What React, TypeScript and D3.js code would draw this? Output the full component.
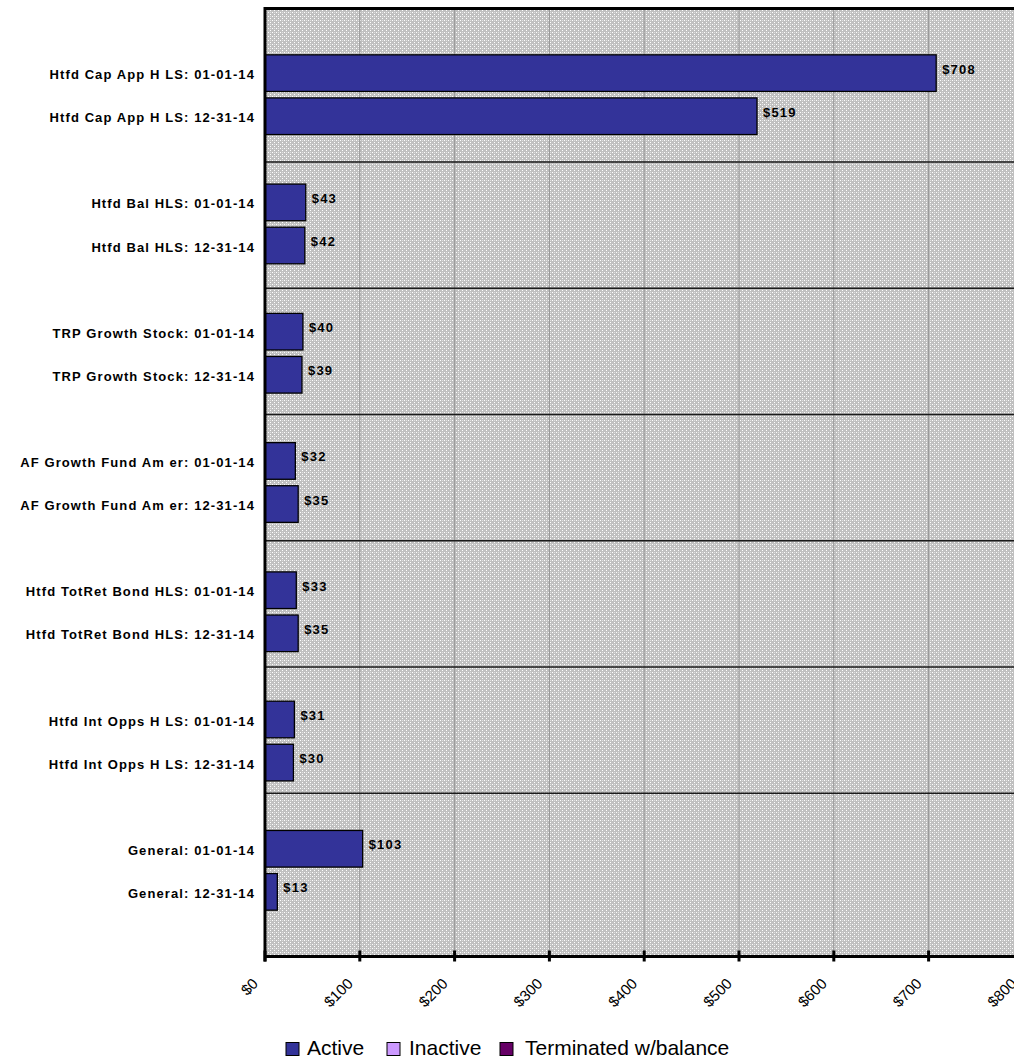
import React from "react";
import * as d3 from "d3";

const groups = [
  "Htfd Cap App H LS",
  "Htfd Bal HLS",
  "TRP Growth Stock",
  "AF Growth Fund Am er",
  "Htfd TotRet Bond HLS",
  "Htfd Int Opps H LS",
  "General",
];
const dates = ["01-01-14", "12-31-14"];
const activeValues = [708, 519, 43, 42, 40, 39, 32, 35, 33, 35, 31, 30, 103, 13];
const xTicks = [0, 100, 200, 300, 400, 500, 600, 700, 800];
const legendNames = ["Active", "Inactive", "Terminated w/balance"];
const legendColors = ["#333399", "#CC99FF", "#660066"];

const W = 1014;
const H = 1059;
const left = 265;
const right = 1023.4;
const top = 8.5;
const bottom = 956.5;
const FONT = "Arial, 'Liberation Sans', sans-serif";

export default function App() {
  const slots: string[] = [];
  const bars: { key: string; label: string; value: number }[] = [];
  groups.forEach((g, gi) => {
    slots.push(`gap-${gi}`);
    dates.forEach((d, di) => {
      const key = `${g}: ${d}`;
      slots.push(key);
      bars.push({ key, label: key, value: activeValues[gi * 2 + di] });
    });
  });
  slots.push("gap-end");

  const x = d3.scaleLinear().domain([0, 800]).range([left, right]);
  const y = d3.scaleBand().domain(slots).range([top, bottom]).paddingInner(0.15).paddingOuter(0.075);
  const yUnits = d3.scaleLinear().domain([0, slots.length]).range([top, bottom]);
  const sepStart = 3.56;
  const sepStep = 2.93;
  const seps = d3.range(groups.length - 1).map((i) => yUnits(sepStart + i * sepStep));

  const legendX = [286, 387, 500];
  const legendTextX = [307, 409, 525];

  return (
    <svg width={W} height={H} style={{ position: "absolute", left: 0, top: 0, background: "#fff" }}>
      <defs>
        <pattern id="dots" width={4} height={4} patternUnits="userSpaceOnUse">
          <rect width={4} height={4} fill="#c0c0c0" />
          <rect x={0} y={0} width={1} height={1} fill="#ffffff" />
          <rect x={2} y={2} width={1} height={1} fill="#ffffff" />
          <rect x={2} y={0} width={1} height={1} fill="#e0e0e0" />
        </pattern>
      </defs>
      <rect x={left} y={top} width={right - left} height={bottom - top} fill="url(#dots)" />
      {xTicks.slice(1).map((t) => (
        <line key={`g${t}`} x1={x(t)} x2={x(t)} y1={top} y2={bottom} stroke="#959595" strokeWidth={1} />
      ))}
      {seps.map((s, i) => (
        <line key={`s${i}`} x1={left} x2={right} y1={s} y2={s} stroke="#1a1a1a" strokeWidth={1.5} />
      ))}
      {bars.map((b) => {
        const by = y(b.key)!;
        const bh = y.bandwidth();
        return (
          <g key={b.key}>
            <rect x={x(0)} y={by} width={x(b.value) - x(0)} height={bh} fill="#333399" stroke="#000" strokeWidth={1.3} />
            <text
              x={x(b.value) + 6}
              y={by + bh / 2 + 0.5}
              fontFamily={FONT}
              fontWeight="bold"
              fontSize={13}
              letterSpacing={1.2}
              fill="#000"
            >
              {`$${b.value}`}
            </text>
            <text
              x={255}
              y={by + bh / 2 + 6}
              textAnchor="end"
              fontFamily={FONT}
              fontWeight="bold"
              fontSize={13}
              letterSpacing={1.1}
              fill="#000"
            >
              {b.label}
            </text>
          </g>
        );
      })}
      <line x1={left} x2={right} y1={top} y2={top} stroke="#000" strokeWidth={3} />
      <line x1={left} x2={left} y1={top - 1.5} y2={bottom + 5} stroke="#000" strokeWidth={3} />
      <line x1={left} x2={right} y1={bottom} y2={bottom} stroke="#000" strokeWidth={3} />
      {xTicks.map((t) => (
        <g key={`t${t}`}>
          <line x1={x(t)} x2={x(t)} y1={bottom - 6} y2={bottom + 5} stroke="#000" strokeWidth={3} />
          <text
            transform={`translate(${x(t) - 6},${bottom + 28}) rotate(-45)`}
            textAnchor="end"
            fontFamily={FONT}
            fontSize={15}
            fill="#000"
          >
            {`$${t}`}
          </text>
        </g>
      ))}
      {legendNames.map((n, i) => (
        <g key={n}>
          <rect x={legendX[i]} y={1042.5} width={13} height={13} fill={legendColors[i]} stroke="#000" strokeWidth={1} />
          <text x={legendTextX[i]} y={1055} fontFamily={FONT} fontSize={21} fill="#000">
            {n}
          </text>
        </g>
      ))}
    </svg>
  );
}
